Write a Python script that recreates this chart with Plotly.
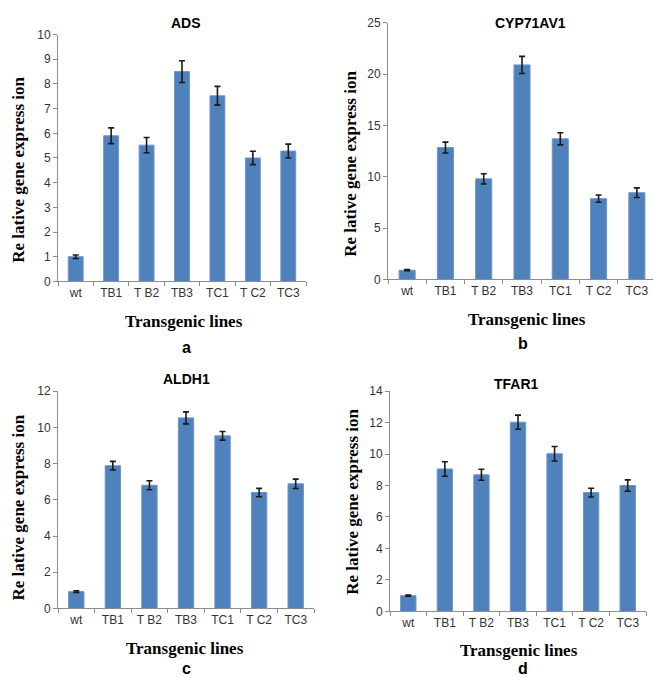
import plotly.graph_objects as go

W, H = 661, 678

categories = ["wt", "TB1", "T B2", "TB3", "TC1", "T C2", "TC3"]

ads_values = [1.0, 5.9, 5.52, 8.5, 7.52, 5.0, 5.28]
ads_errors = [0.07, 0.32, 0.31, 0.44, 0.38, 0.27, 0.28]

cyp_values = [0.9, 12.85, 9.8, 20.9, 13.7, 7.87, 8.45]
cyp_errors = [0.06, 0.53, 0.5, 0.83, 0.59, 0.35, 0.47]

aldh_values = [0.93, 7.88, 6.8, 10.52, 9.53, 6.4, 6.88]
aldh_errors = [0.05, 0.24, 0.25, 0.33, 0.24, 0.23, 0.26]

tfar_values = [1.0, 9.05, 8.68, 12.02, 10.02, 7.55, 8.0]
tfar_errors = [0.04, 0.46, 0.35, 0.45, 0.46, 0.28, 0.36]

titles = ["ADS", "CYP71AV1", "ALDH1", "TFAR1"]
letters = ["a", "b", "c", "d"]
y_max = [10, 25, 12, 14]
y_dtick = [1, 5, 2, 2]

panels = [
    (ads_values, ads_errors),
    (cyp_values, cyp_errors),
    (aldh_values, aldh_errors),
    (tfar_values, tfar_errors),
]

# pixel layout of each panel: (x0, x1, ytop, ybottom)
px = [
    (50, 298, 20, 272),
    (380, 648, 8, 270),
    (50, 306, 384, 606),
    (382, 638, 384, 609),
]
title_pos = [(178, 8), (522, 8), (178, 372), (508, 377)]
ytitle_pos = [(11, 158), (343, 152), (11, 503), (345, 497)]
xtitle_pos = [(176, 313), (519, 311), (177, 647), (511, 649)]
letter_pos = [(178, 339), (515, 335), (178, 667), (515, 667)]

fig = go.Figure()
annotations = []

for i, ((vals, errs), (x0, x1, yt, yb)) in enumerate(zip(panels, px)):
    ax = "" if i == 0 else str(i + 1)
    fig.add_trace(go.Bar(
        x=categories, y=vals,
        xaxis="x" + ax, yaxis="y" + ax,
        marker=dict(color="#4F81BD", line=dict(color="#6d96c9", width=1)),
        width=0.42,
        error_y=dict(type="data", array=errs, visible=True,
                     color="#1a1a1a", thickness=1.6, width=3),
        showlegend=False,
    ))
    xkey = "xaxis" + ax
    ykey = "yaxis" + ax
    fig.layout[xkey] = dict(
        domain=[x0 / W, x1 / W], anchor="y" + ax,
        showline=True, linecolor="#8c8c8c", linewidth=1,
        ticks="outside", tickson="boundaries", ticklen=4, tickcolor="#8c8c8c",
        showgrid=False, zeroline=False,
        tickfont=dict(family="Liberation Sans, Arial", size=12, color="#333333"),
        range=[-0.5, 6.5], fixedrange=True,
    )
    fig.layout[ykey] = dict(
        domain=[1 - yb / H, 1 - yt / H], anchor="x" + ax,
        range=[0, y_max[i]], dtick=y_dtick[i], tick0=0,
        showline=True, linecolor="#8c8c8c", linewidth=1,
        ticks="outside", ticklen=4, tickcolor="#8c8c8c",
        showgrid=False, zeroline=False,
        tickfont=dict(family="Liberation Sans, Arial", size=12, color="#333333"),
        fixedrange=True,
    )
    tx, ty = title_pos[i]
    annotations.append(dict(
        text="<b>%s</b>" % titles[i], x=tx / W, y=1 - ty / H,
        xref="paper", yref="paper", showarrow=False,
        xanchor="center", yanchor="middle",
        font=dict(family="Liberation Sans, Arial", size=14, color="#000000"),
    ))
    yx, yy = ytitle_pos[i]
    annotations.append(dict(
        text="<b>Re lative gene express ion</b>", x=yx / W, y=1 - yy / H,
        xref="paper", yref="paper", showarrow=False, textangle=-90,
        xanchor="center", yanchor="middle",
        font=dict(family="Liberation Serif, Times New Roman", size=17, color="#000000"),
    ))
    xx, xy = xtitle_pos[i]
    annotations.append(dict(
        text="<b>Transgenic lines</b>", x=xx / W, y=1 - xy / H,
        xref="paper", yref="paper", showarrow=False,
        xanchor="center", yanchor="middle",
        font=dict(family="Liberation Serif, Times New Roman", size=17, color="#000000"),
    ))
    lx, ly = letter_pos[i]
    annotations.append(dict(
        text="<b>%s</b>" % letters[i], x=lx / W, y=1 - ly / H,
        xref="paper", yref="paper", showarrow=False,
        xanchor="center", yanchor="middle",
        font=dict(family="Liberation Sans, Arial", size=16, color="#000000"),
    ))

fig.update_layout(
    width=W, height=H,
    margin=dict(l=0, r=0, t=0, b=0),
    paper_bgcolor="white", plot_bgcolor="white",
    annotations=annotations,
)

fig.write_html("out.html")
